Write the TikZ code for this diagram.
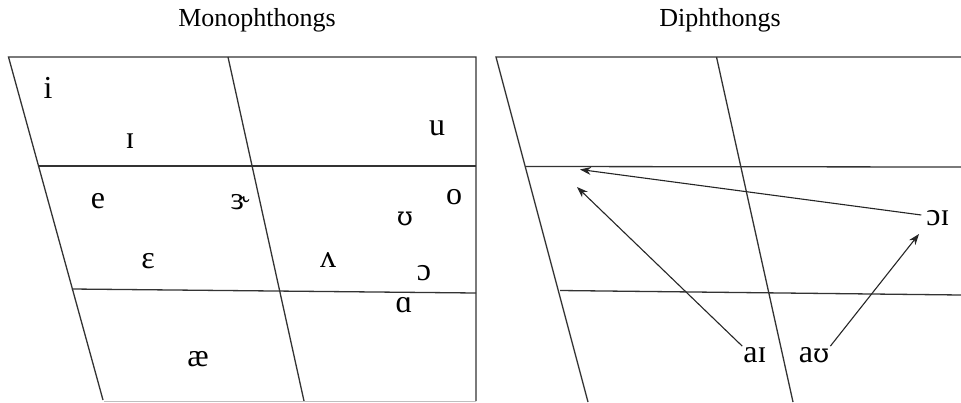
\documentclass[tikz,border=0pt]{standalone}
\usepackage{fontspec}
\setmainfont{Liberation Serif}
\newfontfamily\ipaalt{DejaVu Serif}
\usetikzlibrary{arrows.meta}
\tikzset{
  gridline/.style={draw=black!80, line width=1.3pt},
  faintline/.style={draw=black!25, line width=1pt},
  vowel/.style={inner sep=1pt, font=\fontsize{32}{34}\selectfont},
  title/.style={inner sep=0pt, font=\fontsize{26}{28}\selectfont},
  glide/.style={draw=black!85, line width=1.1pt, -{Stealth[length=11pt,width=8pt]}}
}
\begin{document}
\begin{tikzpicture}[x=1pt,y=-1pt]
\useasboundingbox (0,0) rectangle (961,402);
% titles
\node[title] (t1) at (257,20) {Monophthongs};
\node[title] (t2) at (720,20) {Diphthongs};
% left chart
\draw[gridline] (103,400) -- (8.5,57) -- (476,57) -- (476,401);
\draw[gridline] (228,57) -- (304,401);
\draw[gridline] (38,166) -- (476,166);
\draw[gridline] (72,289) -- (476,293);
\draw[faintline] (104,401) -- (476,401);
% right chart
\draw[gridline] (588,402) -- (496,57) -- (961,57);
\draw[gridline] (716.5,57) -- (793,402);
\draw[gridline] (525.5,166.5) -- (961,167);
\draw[gridline] (560,290.5) -- (961,295);
% monophthongs
\node[vowel] (i) at (48,88) {i};
\node[vowel] (I) at (130,141) {ɪ};
\node[vowel] (u) at (437,128) {u};
\node[vowel] (e) at (98,201) {e};
\node[vowel] (er) at (240,202) {ɝ};
\node[vowel] (o) at (454,197) {o};
\node[vowel] (U) at (405,219) {{\ipaalt\fontsize{26}{28}\selectfont ʊ}};
\node[vowel] (eps) at (148,261) {ɛ};
\node[vowel] (v) at (328,260) {ʌ};
\node[vowel] (oo) at (424,273) {ɔ};
\node[vowel] (a) at (404,305) {ɑ};
\node[vowel] (ae) at (198,359) {æ};
% diphthongs
\node[vowel] (ai) at (755,355) {aɪ};
\node[vowel] (au) at (814,355) {a{\ipaalt\fontsize{26}{28}\selectfont ʊ}};
\node[vowel] (oi) at (938,218) {ɔɪ};
\coordinate (eend) at (577,187);
\coordinate (iend) at (580,169.5);
\coordinate (oiend) at (919,234);
\path (oi.west) ++(-4,-3) coordinate (oistart);
\draw[glide] (ai.north west) -- (eend);
\draw[glide] (oistart) -- (iend);
\draw[glide] (au.north east) -- (oiend);
\end{tikzpicture}
\end{document}
